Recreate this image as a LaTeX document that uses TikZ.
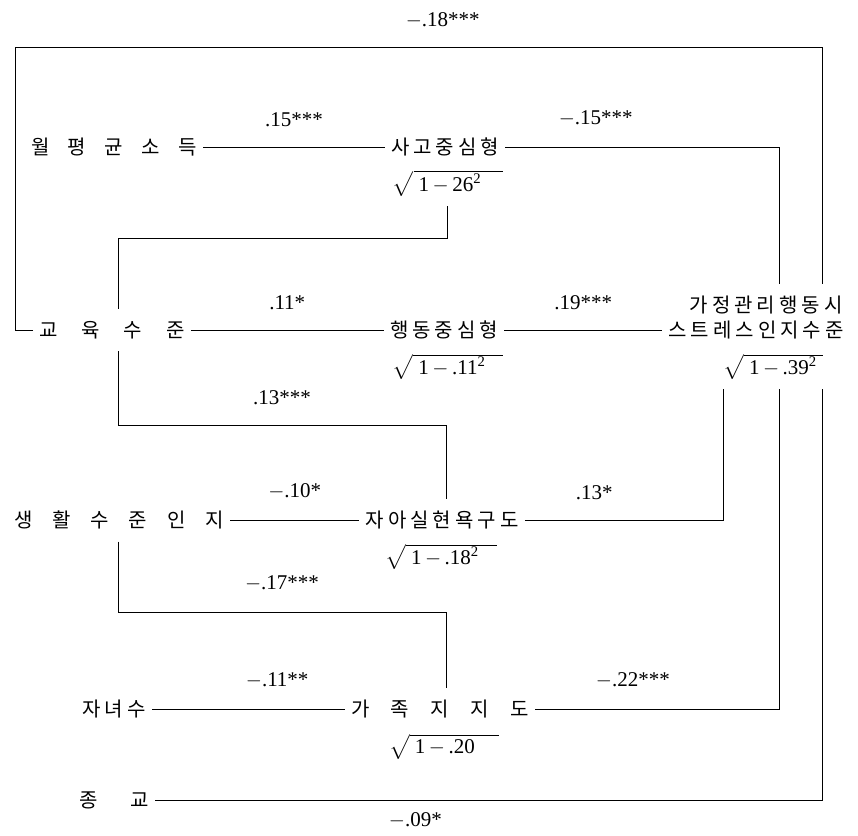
\documentclass[tikz,border=0pt]{standalone}
\usepackage{amsmath}
\usepackage{fontspec}
\setmainfont{Liberation Serif}
\newfontfamily\krfam[LetterSpace=20]{Noto Sans CJK KR}
\newcommand\krfont{\krfam\fontsize{20}{24}\selectfont}
\newcommand\numfont{\fontsize{21}{25}\selectfont}
\newcommand\resid[2]{$\sqrt{\mbox{\rule[-5pt]{0pt}{18pt}\hspace{5pt}#1\hspace{#2}}}$}
\begin{document}
\begin{tikzpicture}
    [x=1pt, y=-1pt, line width=0.8pt,
      var/.style={font=\krfont, inner xsep=6pt, inner ysep=12pt},
      spread/.style={text width=#1, align=left},
      resid/.style={font=\numfont, anchor=base, inner xsep=0pt, inner ysep=9pt},
      coef/.style={font=\numfont, inner sep=0pt},
     ]
    \useasboundingbox (0,0) rectangle (858,835);
    % left column
    \node[var, spread=166pt] (inc)  at (114,147) {월\hfill 평\hfill 균\hfill 소\hfill 득};
    \node[var, spread=145pt] (edu)  at (112,330) {교\hfill 육\hfill 수\hfill 준};
    \node[var, spread=210pt] (life) at (119,520) {생\hfill 활\hfill 수\hfill 준\hfill 인\hfill 지};
    \node[var]               (kids) at (114,709) {자녀수};
    \node[var, spread=70pt]  (rel)  at (114,800) {종\hfill 교};
    % middle column
    \node[var]               (think) at (445,147) {사고중심형};
    \node[var]               (act)   at (444,330) {행동중심형};
    \node[var]               (self)  at (442,520) {자아실현욕구도};
    \node[var, spread=178pt] (fam)   at (440,709) {가\hfill 족\hfill 지\hfill 지\hfill 도};
    \node[resid] (rthink) at (448,191) {\resid{1\,$-$\,26\textsuperscript{2}}{22pt}};
    \node[resid] (ract)   at (448,374) {\resid{1\,$-$\,.11\textsuperscript{2}}{18pt}};
    \node[resid] (rself)  at (441,564) {\resid{1\,$-$\,.18\textsuperscript{2}}{18pt}};
    \node[resid] (rfam)   at (444,753) {\resid{1\,$-$\,.20}{24pt}};
    % right column
    \node[var] (stress1) at (766,305) {가정관리행동시};
    \node[var] (stress2) at (756,330) {스트레스인지수준};
    \node[resid] (rstress) at (773,374) {\resid{1\,$-$\,.39\textsuperscript{2}}{6pt}};
    \coordinate (colL) at (118,0);
    \coordinate (colA) at (779,0);
    \coordinate (colB) at (822,0);
    \coordinate (colC) at (723,0);
    \coordinate (topL) at (15,47);
    \coordinate (topR) at (822,47);
    \coordinate (k1) at (447,238);
    \coordinate (k2) at (446,425);
    \coordinate (k3) at (446,612);
    % paths
    \draw (edu.west) -| (topL) -- node[coef, above=18pt, pos=0.53] {$-$.18***} (topR) -- (stress1.north -| topR);
    \draw (inc.east) -- node[coef, above=20pt] {.15***} (think.west);
    \draw (think.east) -- node[coef, above=20pt, pos=0.33] {$-$.15***} (think.east -| colA) -- (stress1.north -| colA);
    \draw (edu.north -| colL) |- (k1) -- (k1 |- rthink.south);
    \draw (edu.east) -- node[coef, above=20pt] {.11*} (act.west);
    \draw (act.east) -- node[coef, above=20pt] {.19***} (stress2.west);
    \draw (edu.south -| colL) |- node[coef, above=20pt, pos=0.75] {.13***} (k2) -- (k2 |- self.north);
    \draw (life.east) -- node[coef, above=20pt] {$-$.10*} (self.west);
    \draw (self.east) -- node[coef, above=20pt, pos=0.35] {.13*} (self.east -| colC) -- (rstress.south -| colC);
    \draw (life.south -| colL) |- node[coef, above=20pt, pos=0.75] {$-$.17***} (k3) -- (k3 |- fam.north);
    \draw (kids.east) -- node[coef, above=20pt, pos=0.65] {$-$.11**} (fam.west);
    \draw (fam.east) -- node[coef, above=20pt, pos=0.4] {$-$.22***} (fam.east -| colA) -- (rstress.south -| colA);
    \draw (rel.east) -- node[coef, below=12pt, pos=0.39] {$-$.09*} (rel.east -| colB) -- (rstress.south -| colB);
\end{tikzpicture}
\end{document}
